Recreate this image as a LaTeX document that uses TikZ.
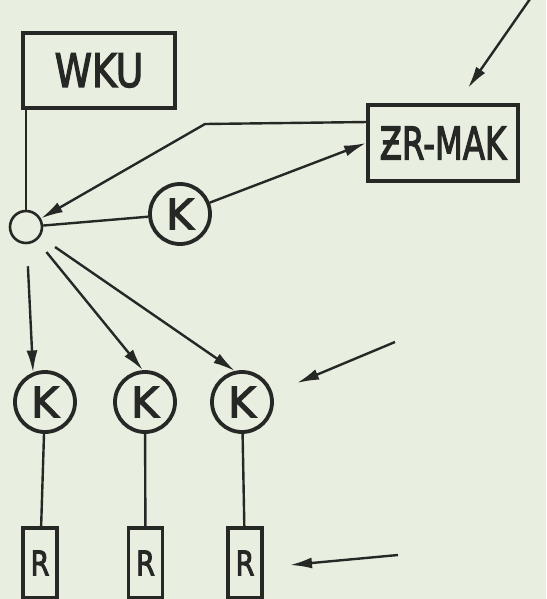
\documentclass[tikz,border=0pt]{standalone}
\usepackage{fontspec}
\setmainfont{DejaVu Sans}[FakeBold=3]
\usetikzlibrary{arrows.meta}
\definecolor{bg}{RGB}{232,239,225}
\definecolor{ink}{RGB}{38,40,38}
\begin{document}
\begin{tikzpicture}[x=1pt,y=-1pt,
  box/.style={draw=ink,line width=3.8pt,inner sep=0pt,text=ink},
  kcirc/.style={draw=ink,circle,line width=3.8pt,minimum size=60pt,inner sep=0pt,text=ink,font=\fontsize{42}{44}\selectfont},
  rbox/.style={box,minimum width=34pt,minimum height=70pt,font=\fontsize{34}{36}\selectfont},
  conn/.style={draw=ink,line width=2.4pt},
  arr/.style={conn,-{Latex[length=22pt,width=11pt]}}]
\fill[bg] (0,0) rectangle (546,599);
\useasboundingbox (0,0) rectangle (546,599);
% nodes
\node[box,minimum width=152pt,minimum height=75pt,font=\fontsize{46}{48}\selectfont] (wku) at (99,70.5) {\scalebox{0.82}[1]{WKU}};
\node[box,minimum width=150pt,minimum height=76pt,font=\fontsize{45}{47}\selectfont] (zr) at (443,143) {\scalebox{0.72}[1]{ƵR-MAK}};
\node[draw=ink,circle,line width=2.6pt,minimum size=32pt,inner sep=0pt] (c0) at (26,227) {};
\node[kcirc] (km) at (180,214) {K};
\node[kcirc] (k1) at (45,402) {K};
\node[kcirc] (k2) at (145,402) {K};
\node[kcirc] (k3) at (242,402) {K};
\node[rbox] (r1) at (40,563) {\scalebox{0.8}[1]{R}};
\node[rbox] (r2) at (145.5,563) {\scalebox{0.8}[1]{R}};
\node[rbox] (r3) at (245,563) {\scalebox{0.8}[1]{R}};
% coordinates
\coordinate (zrin) at (368,122);
\coordinate (bend) at (205,124);
\coordinate (s1) at (530,-1);
\coordinate (t1) at (468,88);
\coordinate (s2) at (395,342);
\coordinate (t2) at (297,383);
\coordinate (s3) at (398,555);
\coordinate (t3) at (290,565);
% connectors
\draw[conn] (c0 |- wku.south) -- (c0.north);
\draw[conn] (c0) -- (km);
\draw[arr] (km) -- (zr.west);
\draw[arr] (zrin) -- (bend) -- (c0);
\draw[arr,shorten <=22pt] (c0) -- (k1.112);
\draw[arr,shorten <=15pt] (c0) -- (k2.94);
\draw[arr,shorten <=18pt] (c0) -- (k3.103);
\draw[conn] (k1) -- (r1);
\draw[conn] (k2) -- (r2);
\draw[conn] (k3) -- (r3);
\draw[arr] (s1) -- (t1);
\draw[arr] (s2) -- (t2);
\draw[arr] (s3) -- (t3);
\end{tikzpicture}
\end{document}
